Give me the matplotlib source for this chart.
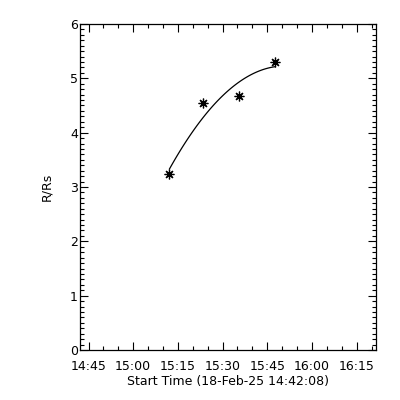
import numpy as np
import matplotlib
matplotlib.use("Agg")
import matplotlib.pyplot as plt
import matplotlib.dates as mdates
from datetime import datetime

# height-time points (LASCO style)
times = ["2025-02-18 15:12:10", "2025-02-18 15:23:35",
         "2025-02-18 15:35:40", "2025-02-18 15:47:35"]
heights = [3.24, 4.55, 4.68, 5.30]

start_time = "2025-02-18 14:42:08"
end_time = "2025-02-18 16:21:30"
tick_times = ["14:45", "15:00", "15:15", "15:30", "15:45", "16:00", "16:15"]

t = [datetime.strptime(s, "%Y-%m-%d %H:%M:%S") for s in times]
t0 = datetime.strptime(start_time, "%Y-%m-%d %H:%M:%S")
t1 = datetime.strptime(end_time, "%Y-%m-%d %H:%M:%S")

# quadratic fit in minutes since first point
mins = np.array([(x - t[0]).total_seconds() / 60 for x in t])
coef = np.polyfit(mins, heights, 2)
fm = np.linspace(mins[0], mins[-1], 100)
fit_t = [mdates.date2num(t[0]) + m / 1440 for m in fm]

fig = plt.figure(figsize=(4, 4), dpi=100)
ax = fig.add_axes([0.2, 0.125, 0.74, 0.815])

ax.plot(fit_t, np.polyval(coef, fm), color="black", lw=0.9)
ax.plot(t, heights, linestyle="none", marker=(8, 2, 0), markersize=7,
        color="black", mew=0.9)

ax.set_xlim(t0, t1)
ax.set_ylim(0, 6)

major = [datetime.strptime("2025-02-18 " + s, "%Y-%m-%d %H:%M") for s in tick_times]
ax.set_xticks(major)
ax.xaxis.set_major_formatter(mdates.DateFormatter("%H:%M"))
ax.xaxis.set_minor_locator(mdates.MinuteLocator(byminute=range(0, 60, 5)))
ax.set_yticks(range(0, 7))
ax.yaxis.set_minor_locator(matplotlib.ticker.MultipleLocator(0.1))

ax.tick_params(which="both", direction="in", top=True, right=True,
               width=0.8, labelsize=9)
ax.tick_params(which="major", length=6)
ax.tick_params(which="minor", length=3)
ax.tick_params(axis="x", which="major", pad=7)
ax.tick_params(axis="y", which="major", pad=1.5)
for sp in ax.spines.values():
    sp.set_linewidth(0.9)

ax.set_ylabel("R/Rs", fontsize=9, labelpad=12)
ax.set_xlabel("Start Time (18-Feb-25 14:42:08)", fontsize=9, labelpad=2)

fig.savefig("out.png", dpi=100)
